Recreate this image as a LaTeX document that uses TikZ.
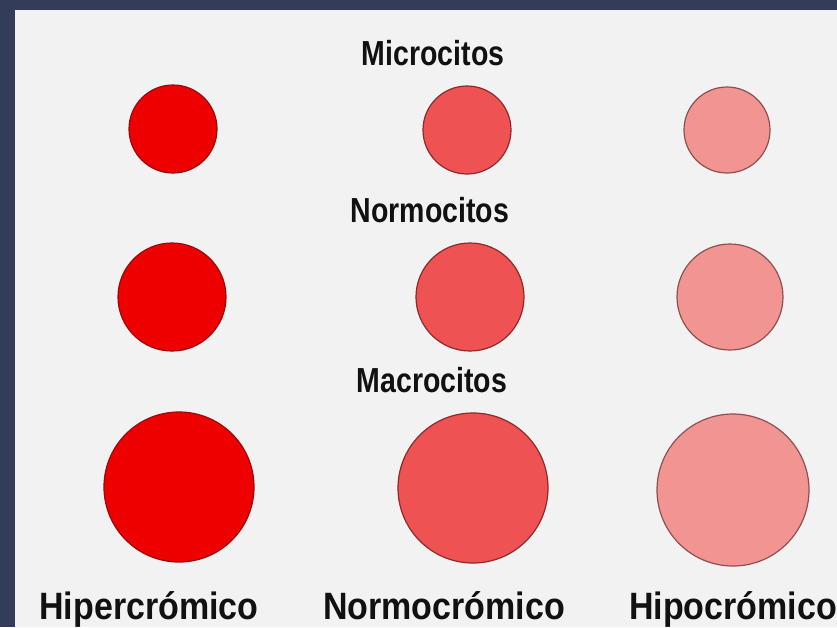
\documentclass[tikz,border=0pt]{standalone}
\usepackage{fontspec}
\setmainfont{Liberation Sans}
\definecolor{navy}{HTML}{333D59}
\definecolor{panel}{HTML}{F2F2F2}
\definecolor{ink}{HTML}{111111}
\definecolor{hyper}{HTML}{EE0000}
\definecolor{hyperline}{HTML}{9A0A0A}
\definecolor{normo}{HTML}{EF5252}
\definecolor{normoline}{HTML}{8E2A2A}
\definecolor{hypo}{HTML}{F29492}
\definecolor{hypoline}{HTML}{8E5050}
\newcommand{\tallbf}[1]{\scalebox{1}[1.22]{#1}}
\newcommand{\tallft}[1]{\scalebox{1}[1.12]{#1}}
\tikzset{
  cellA/.style={circle,fill=hyper,draw=hyperline,line width=1.2pt,inner sep=0pt},
  cellB/.style={circle,fill=normo,draw=normoline,line width=1.2pt,inner sep=0pt},
  cellC/.style={circle,fill=hypo,draw=hypoline,line width=1.2pt,inner sep=0pt},
  title/.style={font=\fontsize{28.5}{30}\selectfont\bfseries,text=ink,inner sep=0pt,anchor=base},
  foot/.style={font=\fontsize{34}{35}\selectfont\bfseries,text=ink,inner sep=0pt,anchor=base}
}
\begin{document}
\begin{tikzpicture}[x=1pt,y=-1pt]
\useasboundingbox (0,0) rectangle (837,627);
\fill[navy] (0,0) rectangle (837,627);
\fill[panel] (15,10) rectangle (837,627);
% row 1 microcitos
\node[cellA,minimum size=88pt] (a1) at (173,129) {};
\node[cellB,minimum size=88pt] (b1) at (467,130) {};
\node[cellC,minimum size=86pt] (c1) at (727,130) {};
% row 2 normocitos
\node[cellA,minimum size=108pt] (a2) at (172,297) {};
\node[cellB,minimum size=108pt] (b2) at (470,297) {};
\node[cellC,minimum size=106pt] (c2) at (730,297) {};
% row 3 macrocitos
\node[cellA,minimum size=150pt] (a3) at (179,487) {};
\node[cellB,minimum size=150pt] (b3) at (473,488) {};
\node[cellC,minimum size=152pt] (c3) at (733,490) {};
% titles
\node[title] (t1) at (433,65) {\tallbf{Microcitos}};
\node[title] (t2) at (430,222) {\tallbf{Normocitos}};
\node[title] (t3) at (432,392) {\tallbf{Macrocitos}};
% bottom labels
\node[foot] (f1) at (149,619) {\tallft{Hipercrómico}};
\node[foot] (f2) at (444,619) {\tallft{Normocrómico}};
\node[foot] (f3) at (733,619) {\tallft{Hipocrómico}};
\end{tikzpicture}
\end{document}
